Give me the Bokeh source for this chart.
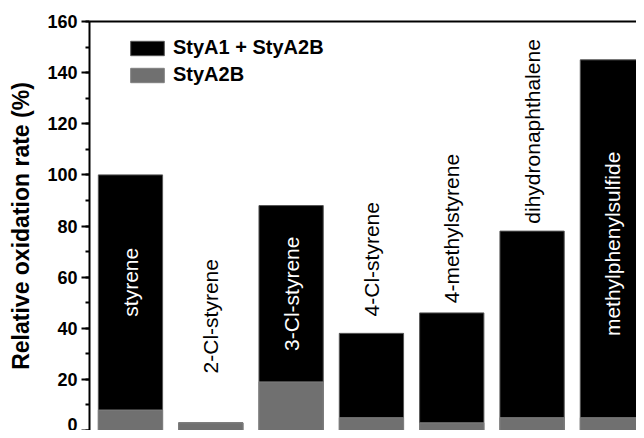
import math
from bokeh.plotting import figure
from bokeh.models import (Range1d, LinearAxis, SingleIntervalTicker, FixedTicker,
                          Legend, LegendItem, ColumnDataSource)
from bokeh.core.properties import value
from bokeh.embed import file_html
from bokeh.resources import INLINE

substrates = ["styrene", "2-Cl-styrene", "3-Cl-styrene", "4-Cl-styrene",
              "4-methylstyrene", "dihydronaphthalene", "methylphenylsulfide"]
total_rate = [100, 3, 88, 38, 46, 78, 145]      # StyA1 + StyA2B
styA2B_rate = [8, 3, 19, 5, 3, 5, 5]            # StyA2B
label_y = [58, 44.7, 53.5, 67, 79, 117, 73]     # centre of each rotated label
label_inside = [True, False, True, False, False, False, True]

FONT = value("Liberation Sans")
xs = list(range(len(substrates)))

p = figure(width=636, height=430, output_backend="svg", toolbar_location=None,
           x_range=Range1d(-0.51, 6.30), y_range=Range1d(0, 160),
           x_axis_location=None, min_border_left=89, min_border_top=21,
           min_border_right=0, min_border_bottom=0)
p.outline_line_color = None
p.xgrid.visible = False
p.ygrid.visible = False
p.background_fill_color = "white"

src = ColumnDataSource(dict(
    x=xs, total=total_rate, sub=styA2B_rate, name=substrates, ly=label_y,
    tc=["white" if f else "black" for f in label_inside]))

r1 = p.vbar(x="x", top="total", bottom=0, width=0.8, source=src,
            fill_color="black", line_color="#555555", line_width=1)
r2 = p.vbar(x="x", top="sub", bottom=0, width=0.8, source=src,
            fill_color="#707070", line_color="#808080", line_width=1)

p.text(x="x", y="ly", text="name", source=src, angle=math.pi / 2,
       text_align="center", text_baseline="middle", text_color="tc",
       text_font=FONT, text_font_size="21px")

# left axis
ya = p.yaxis[0]
ya.ticker = SingleIntervalTicker(interval=20, num_minor_ticks=2)
ya.axis_label = "Relative oxidation rate (%)"
ya.axis_label_text_font = "Liberation Sans"
ya.axis_label_text_font_style = "bold"
ya.axis_label_text_font_size = "23px"
ya.axis_label_text_color = "black"
ya.axis_label_standoff = 10
ya.major_label_text_font = "Liberation Sans"
ya.major_label_text_font_style = "bold"
ya.major_label_text_font_size = "18px"
ya.major_label_text_color = "black"
ya.major_label_standoff = 4
ya.axis_line_width = 2
ya.axis_line_color = "black"
ya.major_tick_line_width = 2
ya.minor_tick_line_width = 2
ya.major_tick_out = 8
ya.major_tick_in = 0
ya.minor_tick_out = 4
ya.minor_tick_in = 0

# top frame line
top = LinearAxis(ticker=FixedTicker(ticks=[]), major_tick_line_color=None,
                 minor_tick_line_color=None, axis_line_width=2,
                 axis_line_color="black", major_label_standoff=0)
p.add_layout(top, "above")

legend = Legend(items=[LegendItem(label="StyA1 + StyA2B", renderers=[r1]),
                       LegendItem(label="StyA2B", renderers=[r2])],
                location=(37, 344), padding=0, margin=0, spacing=4,
                glyph_width=42, glyph_height=18, label_height=18,
                label_standoff=5, border_line_color=None,
                background_fill_alpha=0,
                label_text_font="Liberation Sans", label_text_font_style="bold",
                label_text_font_size="20px", label_text_color="black")
p.add_layout(legend, "center")

open("out.html", "w").write(file_html(p, INLINE))
